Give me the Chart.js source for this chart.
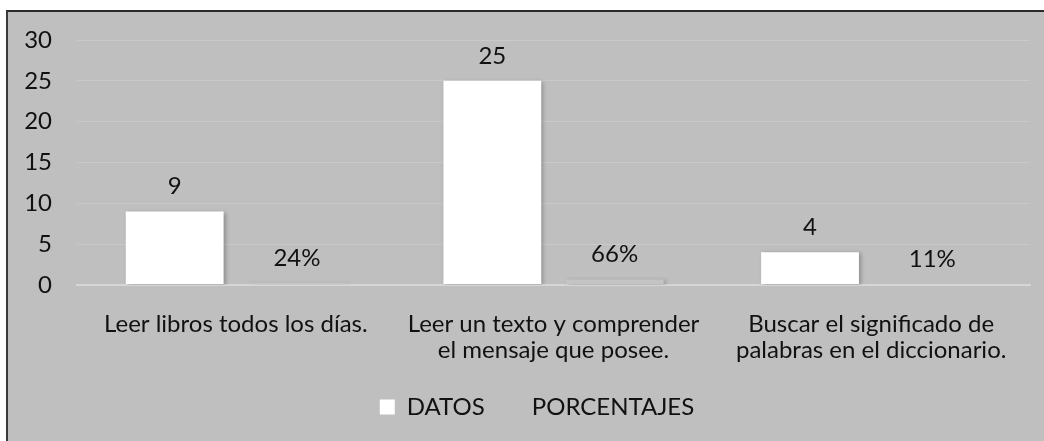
<!DOCTYPE html>
<html>
<head>
<meta charset="utf-8">
<script src="https://cdn.jsdelivr.net/npm/chart.js@4/dist/chart.umd.min.js"></script>
<style>
  html, body { margin: 0; padding: 0; background: #ffffff; }
  #frame {
    position: absolute; left: 6px; top: 10px; width: 1038px; height: 431px;
    background: #bfbfbf; border-left: 2px solid #3a3a3a; border-top: 2px solid #2a2a2a;
    box-sizing: border-box;
  }
  #wrap { position: absolute; left: 0; top: 0; width: 1044px; height: 441px; }
</style>
</head>
<body>
<div id="frame"></div>
<div id="wrap"><canvas id="chart" width="1044" height="441"></canvas></div>
<script>
    const categories = [
        ['Leer libros todos los días.'],
        ['Leer un texto y comprender', 'el mensaje que posee.'],
        ['Buscar el significado de', 'palabras en el diccionario.']
    ];
    const datos = [9, 25, 4];
    const porcentajes = [0.24, 0.66, 0.11];
    const porcentajeLabels = ['24%', '66%', '11%'];
    const yTicks = [0, 5, 10, 15, 20, 25, 30];

    const fontFamily = 'Lato, "Open Sans", sans-serif';

    // soft shadow to the right of each bar, like the original
    const barShadow = {
        id: 'barShadow',
        beforeDatasetDraw(chart) {
            const ctx = chart.ctx;
            ctx.save();
            ctx.shadowColor = 'rgba(0,0,0,0.25)';
            ctx.shadowBlur = 4;
            ctx.shadowOffsetX = 2;
            ctx.shadowOffsetY = 1;
        },
        afterDatasetDraw(chart) {
            chart.ctx.restore();
        }
    };

    // value labels above the bars
    const valueLabels = {
        id: 'valueLabels',
        afterDatasetsDraw(chart) {
            const ctx = chart.ctx;
            ctx.save();
            ctx.font = '24px ' + fontFamily;
            ctx.fillStyle = '#111';
            ctx.textAlign = 'center';
            ctx.textBaseline = 'middle';
            chart.data.datasets.forEach(function (ds, i) {
                chart.getDatasetMeta(i).data.forEach(function (bar, j) {
                    const text = i === 0 ? String(ds.data[j]) : porcentajeLabels[j];
                    ctx.fillText(text, bar.x, bar.y - 25);
                });
            });
            ctx.restore();
        }
    };

    // legend sits a little right of centre in the original
    const legendShift = {
        id: 'legendShift',
        afterLayout(chart) {
            chart.legend.left += 17;
            chart.legend.right += 17;
        }
    };

    new Chart(document.getElementById('chart'), {
        type: 'bar',
        data: {
            labels: categories,
            datasets: [{
                label: 'DATOS',
                data: datos,
                backgroundColor: '#ffffff',
                borderWidth: 0
            }, {
                label: 'PORCENTAJES',
                data: porcentajes,
                backgroundColor: '#c4c4c4',
                borderWidth: 0
            }]
        },
        options: {
            responsive: false,
            animation: false,
            layout: { padding: { top: 40, right: 14, bottom: 12, left: 10 } },
            datasets: {
                bar: { categoryPercentage: 0.77, barPercentage: 0.8 }
            },
            scales: {
                x: {
                    grid: { display: false },
                    border: { display: true, color: '#d6d6d6', width: 2 },
                    afterFit(axis) { axis.height = 90; },
                    ticks: {
                        color: '#111',
                        padding: 18,
                        font: { family: fontFamily, size: 24, lineHeight: 1.08 }
                    }
                },
                y: {
                    min: 0,
                    max: 30,
                    afterBuildTicks(axis) {
                        axis.ticks = yTicks.map(v => ({ value: v }));
                    },
                    afterFit(axis) { axis.width = 67; },
                    border: { display: false },
                    grid: {
                        drawTicks: false,
                        color: ctx => ctx.tick && ctx.tick.value === 0 ? '#d6d6d6' : '#c9c9c9',
                        lineWidth: ctx => ctx.tick && ctx.tick.value === 0 ? 2 : 1
                    },
                    ticks: {
                        color: '#111',
                        padding: 25,
                        font: { family: fontFamily, size: 24 }
                    }
                }
            },
            plugins: {
                legend: {
                    position: 'bottom',
                    labels: {
                        color: '#111',
                        boxWidth: 15,
                        boxHeight: 15,
                        padding: 20,
                        font: { family: fontFamily, size: 24 },
                        generateLabels(chart) {
                            const items = Chart.defaults.plugins.legend.labels.generateLabels(chart);
                            // the percentage swatch blends into the background in the original
                            items[1].fillStyle = '#bfbfbf';
                            items[1].strokeStyle = '#bfbfbf';
                            return items;
                        }
                    }
                },
                tooltip: { enabled: false }
            }
        },
        plugins: [barShadow, valueLabels, legendShift]
    });
</script>
</body>
</html>
